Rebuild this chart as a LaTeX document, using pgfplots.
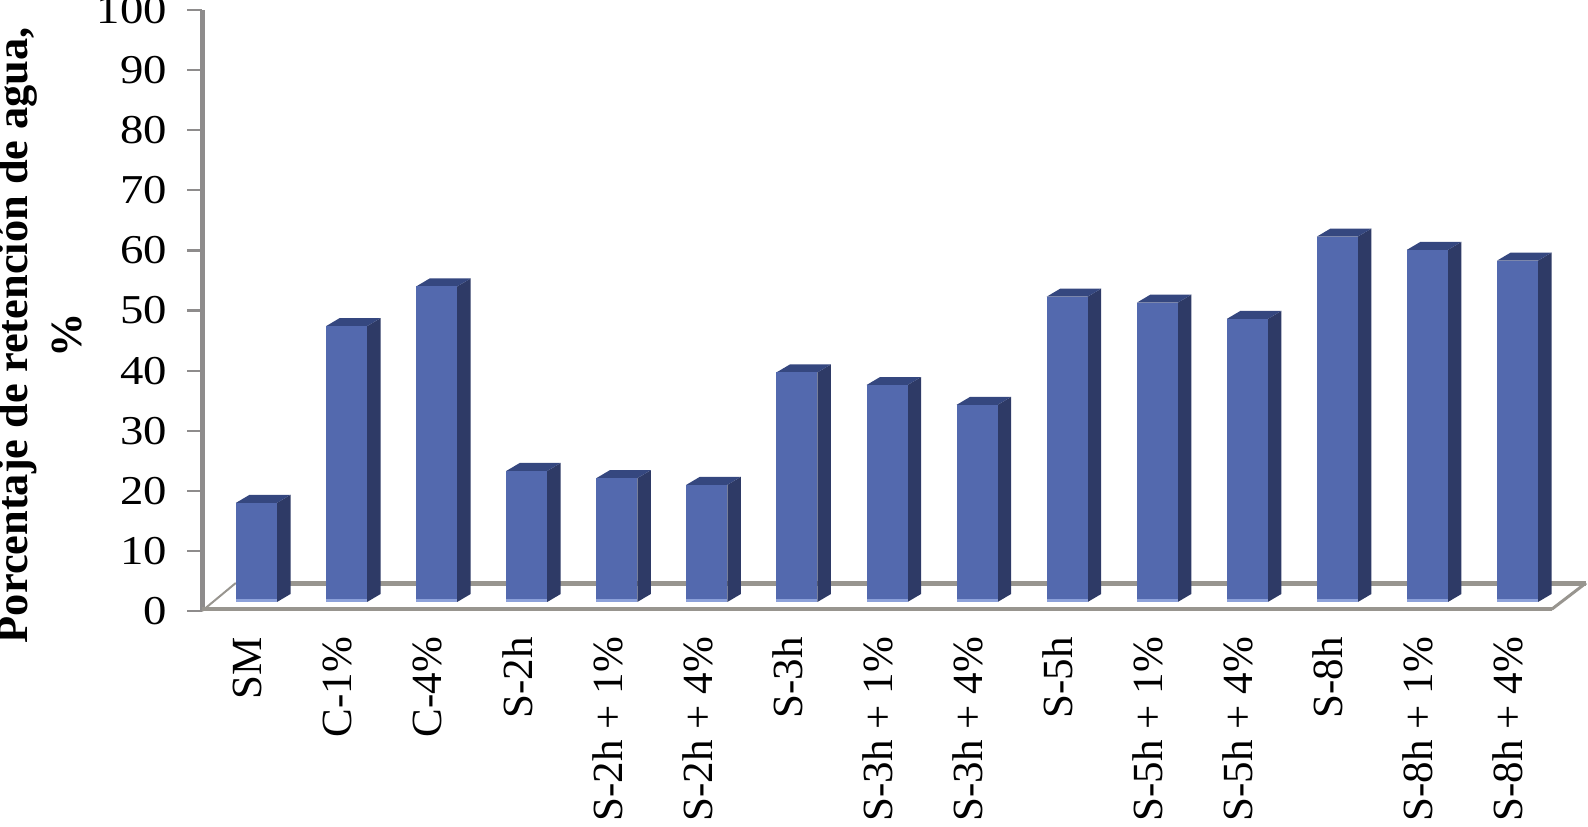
\documentclass[border=0pt]{standalone}
\usepackage{fontspec}
\setmainfont{Liberation Serif}
\newfontfamily\tickfont[FakeStretch=1.14]{Liberation Serif}
\usepackage{pgfplots}
\pgfplotsset{compat=1.18}
\definecolor{barfront}{HTML}{5369AE}
\definecolor{barside}{HTML}{2E3A66}
\definecolor{bartop}{HTML}{35477F}
\definecolor{baredge}{HTML}{8CA1DA}
\definecolor{floorgray}{HTML}{98958F}
\definecolor{axisgray}{HTML}{8E8C8C}
% bar geometry in axis units (1 category = 90 px, 10 % = 60 px)
\def\hw{0.2276}
\def\dx{0.15}
\def\dy{1.33}
\def\base{1.5}
\begin{document}
\begin{tikzpicture}
\path[use as bounding box,clip] (0,0) rectangle (794pt,413pt);
\begin{axis}[
  at={(101pt,107.5pt)},
  anchor=south west,
  scale only axis,
  width=692pt,
  height=300.5pt,
  xmin=-0.605, xmax=14.76,
  ymin=0, ymax=100,
  clip=false,
  axis lines=left,
  axis line style={-},
  x axis line style={draw=none},
  y axis line style={draw=axisgray,line width=2.5pt},
  xtick={0,...,14},
  xticklabels={SM,C-1\%,C-4\%,S-2h,S-2h + 1\%,S-2h + 4\%,S-3h,S-3h + 1\%,S-3h + 4\%,S-5h,S-5h + 1\%,S-5h + 4\%,S-8h,S-8h + 1\%,S-8h + 4\%},
  x tick label style={rotate=90,anchor=east,xshift=-2pt,yshift=4.6pt,font=\fontsize{21.5}{26}\selectfont},
  x tick style={draw=none},
  ytick={0,10,...,100},
  y tick style={draw=axisgray,line width=1.1pt},
  tick align=outside,
  major tick length=7.5pt,
  y tick label style={font=\tickfont\fontsize{20.5}{24}\selectfont,xshift=-6.5pt},
  /pgf/number format/assume math mode=true,
  ylabel={Porcentaje de retención de agua,\\\%},
  ylabel style={at={(axis description cs:-0.1173,0.459)},anchor=center,align=center,font=\bfseries\fontsize{22.2}{27}\selectfont},
]
% floor: back wall line and side diagonals go behind the bars
\addplot[floorgray,line width=2.5pt] coordinates {(-0.23,4.66) (14.76,4.66)};
\addplot[floorgray,line width=1pt] coordinates {(-0.605,0) (-0.23,4.66)};
\addplot[floorgray,line width=1.5pt] coordinates {(14.38,0.3) (14.76,4.66)};
\addplot[floorgray,line width=2pt] coordinates {(-0.605,0.3) (14.38,0.3)};
\pgfplotsforeachungrouped \i/\v in {0/16.5,1/45.9,2/52.5,3/21.8,4/20.6,5/19.5,6/38.2,7/36.1,8/32.8,9/50.8,10/49.8,11/47.1,12/60.8,13/58.6,14/56.8}{
  \pgfmathsetmacro\xl{\i-\hw}
  \pgfmathsetmacro\xr{\i+\hw}
  \pgfmathsetmacro\xlb{\xl+\dx}
  \pgfmathsetmacro\xrb{\xr+\dx}
  \pgfmathsetmacro\yt{\v+\base}
  \pgfmathsetmacro\ytb{\yt+\dy}
  \pgfmathsetmacro\ybb{\base+\dy}
  \pgfmathsetmacro\yedge{\base+0.5}
  \edef\tmp{
    \noexpand\addplot[fill=barside,draw=none] coordinates {(\xr,\base) (\xrb,\ybb) (\xrb,\ytb) (\xr,\yt)};
    \noexpand\addplot[fill=bartop,draw=none] coordinates {(\xl,\yt) (\xr,\yt) (\xrb,\ytb) (\xlb,\ytb)};
    \noexpand\addplot[fill=barfront,draw=none] coordinates {(\xl,\base) (\xr,\base) (\xr,\yt) (\xl,\yt)};
    \noexpand\addplot[fill=baredge,draw=none] coordinates {(\xl,\base) (\xr,\base) (\xr,\yedge) (\xl,\yedge)};
  }
  \tmp
}
\end{axis}
\end{tikzpicture}
\end{document}
